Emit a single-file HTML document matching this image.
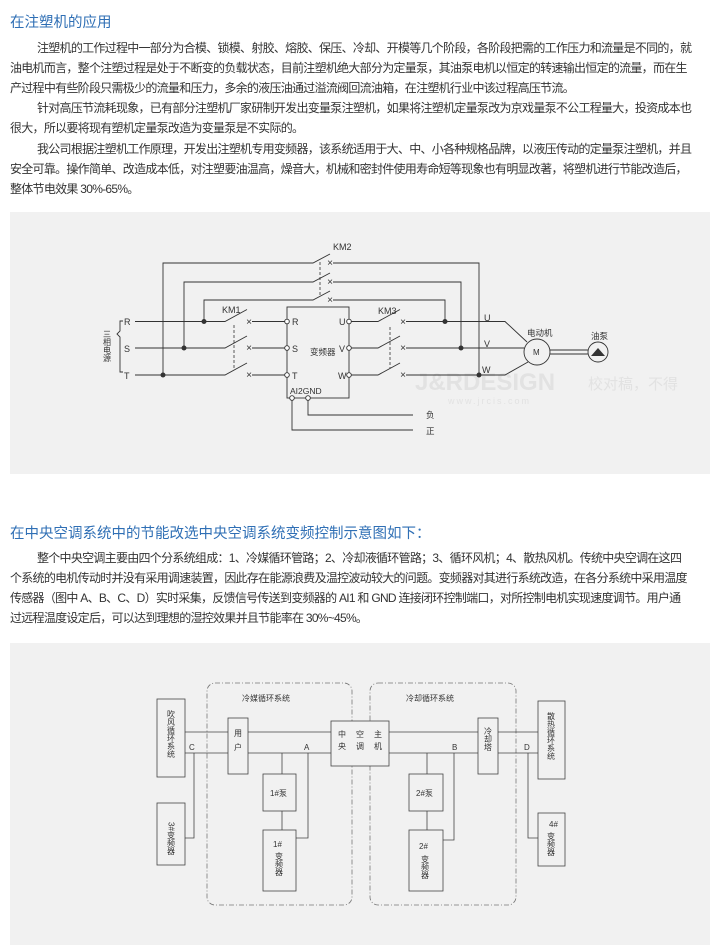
<!DOCTYPE html>
<html><head><meta charset="utf-8"><style>
html,body{margin:0;padding:0;background:#fff;width:720px;height:945px;overflow:hidden}
body{font-family:"Liberation Sans","Noto Sans CJK SC",sans-serif;color:#333;position:relative}
.t{position:absolute;left:10px;font-size:14.5px;color:#2f6fb5;white-space:nowrap}
.l{position:absolute;left:10px;font-size:12px;letter-spacing:-0.72px;white-space:nowrap;color:#333}
.i{left:37px}
svg{position:absolute;left:0;top:0}
</style></head><body>
<div class="t" style="top:11px">在注塑机的应用</div>
<div class="l i" style="top:39px">注塑机的工作过程中一部分为合模、锁模、射胶、熔胶、保压、冷却、开模等几个阶段，各阶段把需的工作压力和流量是不同的，就</div>
<div class="l" style="top:59px">油电机而言，整个注塑过程是处于不断变的负载状态，目前注塑机绝大部分为定量泵，其油泵电机以恒定的转速输出恒定的流量，而在生</div>
<div class="l" style="top:79px">产过程中有些阶段只需极少的流量和压力，多余的液压油通过溢流阀回流油箱，在注塑机行业中该过程高压节流。</div>
<div class="l i" style="top:99px">针对高压节流耗现象，已有部分注塑机厂家研制开发出变量泵注塑机，如果将注塑机定量泵改为京戏量泵不公工程量大，投资成本也</div>
<div class="l" style="top:119px">很大，所以要将现有塑机定量泵改造为变量泵是不实际的。</div>
<div class="l i" style="top:140px">我公司根据注塑机工作原理，开发出注塑机专用变频器，该系统适用于大、中、小各种规格品牌，以液压传动的定量泵注塑机，并且</div>
<div class="l" style="top:160px">安全可靠。操作简单、改造成本低，对注塑要油温高，燥音大，机械和密封件使用寿命短等现象也有明显改著，将塑机进行节能改造后，</div>
<div class="l" style="top:180px">整体节电效果 30%-65%。</div>

<div class="t" style="top:522px">在中央空调系统中的节能改选中央空调系统变频控制示意图如下：</div>
<div class="l i" style="top:549px">整个中央空调主要由四个分系统组成：1、冷媒循环管路；2、冷却液循环管路；3、循环风机；4、散热风机。传统中央空调在这四</div>
<div class="l" style="top:569px">个系统的电机传动时并没有采用调速装置，因此存在能源浪费及温控波动较大的问题。变频器对其进行系统改造，在各分系统中采用温度</div>
<div class="l" style="top:589px">传感器（图中 A、B、C、D）实时采集，反馈信号传送到变频器的 AI1 和 GND 连接闭环控制端口，对所控制电机实现速度调节。用户通</div>
<div class="l" style="top:609px">过远程温度设定后，可以达到理想的湿控效果并且节能率在 30%~45%。</div>

<svg width="720" height="945" viewBox="0 0 720 945" font-family="Liberation Sans, Noto Sans CJK SC, sans-serif">
<rect x="10" y="212" width="700" height="262" fill="#f1f1f1"/>
<rect x="10" y="643" width="700" height="302" fill="#f1f1f1"/>
<!-- watermark -->
<text x="415" y="390" font-size="24" font-weight="bold" fill="#e2e2e2">J&amp;RDESIGN</text>
<text x="588" y="389" font-size="15" fill="#e2e2e2">校对稿，不得</text>
<text x="448" y="404" font-size="9" fill="#e2e2e2" letter-spacing="2">www.jrcis.com</text>
<g stroke="#333" stroke-width="0.9" fill="none">
<path d="M123 321 h-3 v10 l-3 3 l3 3 v35 h3"/>
<path d="M135 321.5 H225 l22 -12"/><path d="M135 348 H225 l22 -12"/><path d="M135 375 H225 l22 -12"/>
<path d="M252 321.5 H287"/><path d="M252 348 H287"/><path d="M252 375 H287"/>
<path d="M163 375 V263 H313 l17 -9"/><path d="M184 348 V282 H313 l17 -9"/><path d="M204 321.5 V300 H313 l17 -9"/>
<path d="M333 263 H479 V375"/><path d="M333 282 H461 V348"/><path d="M333 300 H445 V321.5"/>
<rect x="287" y="307" width="62" height="91"/>
<path d="M349 321.5 H378 l22 -12"/><path d="M349 348 H378 l22 -12"/><path d="M349 375 H378 l22 -12"/>
<path d="M406 321.5 H505 L527 342"/><path d="M406 348 H524"/><path d="M406 375 H505 L528 362"/>
<path d="M308 398 V415 H413"/><path d="M292 398 V430 H413"/>
<circle cx="537" cy="352" r="13"/>
<path d="M550 350 H588 M550 354 H588"/>
<circle cx="598" cy="352" r="10"/>
</g>
<path d="M591 356 L598 348 L605 356 Z" fill="#333"/>
<g stroke="#333" stroke-width="0.8" stroke-dasharray="3,2">
<path d="M320 262 V297"/><path d="M234 325 V368"/><path d="M390 327 V368"/>
</g>
<g fill="#333"><circle cx="163" cy="375" r="2.5"/><circle cx="184" cy="348" r="2.5"/><circle cx="204" cy="321.5" r="2.5"/>
<circle cx="445" cy="321.5" r="2.5"/><circle cx="461" cy="348" r="2.5"/><circle cx="479" cy="375" r="2.5"/></g>
<g fill="#fff" stroke="#333" stroke-width="0.9"><circle cx="287" cy="321.5" r="2.3"/><circle cx="287" cy="348" r="2.3"/><circle cx="287" cy="375" r="2.3"/>
<circle cx="349" cy="321.5" r="2.3"/><circle cx="349" cy="348" r="2.3"/><circle cx="349" cy="375" r="2.3"/><circle cx="292" cy="398" r="2.3"/><circle cx="308" cy="398" r="2.3"/></g>
<g font-size="10" fill="#333" text-anchor="middle">
<text x="249" y="325">×</text><text x="249" y="351">×</text><text x="249" y="378">×</text>
<text x="330" y="266">×</text><text x="330" y="285">×</text><text x="330" y="303">×</text>
<text x="403" y="325">×</text><text x="403" y="351">×</text><text x="403" y="378">×</text>
</g>
<g font-size="9" fill="#333">
<text x="124" y="325">R</text><text x="124" y="352">S</text><text x="124" y="379">T</text>
<text x="292" y="325">R</text><text x="292" y="352">S</text><text x="292" y="379">T</text>
<text x="339" y="325">U</text><text x="339" y="352">V</text><text x="338" y="379">W</text>
<text x="310" y="355" font-size="8.5">变频器</text>
<text x="290" y="394" font-size="8.5">AI2GND</text>
<text x="222" y="313">KM1</text><text x="333" y="250">KM2</text><text x="378" y="314">KM3</text>
<text x="484" y="321">U</text><text x="484" y="347">V</text><text x="482" y="373">W</text>
<text x="527" y="336" font-size="8.5">电动机</text><text x="533" y="355" font-size="8">M</text>
<text x="591" y="339" font-size="8.5">油泵</text>
<text x="426" y="418" font-size="8.5">负</text><text x="426" y="434" font-size="8.5">正</text>
</g>
<text font-size="8" fill="#333" writing-mode="tb" x="107" y="330">三相电源</text>

<g stroke="#777" stroke-width="0.8" fill="none" stroke-dasharray="5,2,1,2">
<rect x="207" y="683" width="145" height="222" rx="8"/>
<rect x="370" y="683" width="146" height="222" rx="8"/>
</g>
<g stroke="#444" stroke-width="0.8" fill="none">
<path d="M185 732 H228 M248 732 H331 M389 732 H478 M498 732 H538"/>
<path d="M185 753 H228 M248 753 H331 M389 753 H478 M498 753 H538"/>
<path d="M194 753 V838 H185"/><path d="M308 753 V838 H296"/><path d="M282 753 V774 M282 811 V830"/>
<path d="M454 753 V840 H443"/><path d="M427 753 V774 M427 811 V830"/><path d="M528 753 V838 H538"/>
</g>
<g stroke="#444" stroke-width="0.8" fill="#f1f1f1">
<rect x="157" y="699" width="28" height="78"/><rect x="157" y="803" width="28" height="62"/>
<rect x="228" y="718" width="20" height="56"/><rect x="331" y="721" width="58" height="45"/>
<rect x="478" y="718" width="20" height="56"/><rect x="538" y="701" width="27" height="78"/>
<rect x="538" y="813" width="27" height="53"/>
<rect x="263" y="774" width="33" height="37"/><rect x="263" y="830" width="33" height="61"/>
<rect x="409" y="774" width="34" height="37"/><rect x="409" y="830" width="34" height="61"/>
</g>
<g font-size="8" fill="#333">
<text x="242" y="701">冷媒循环系统</text><text x="406" y="701">冷却循环系统</text>
<text x="189" y="750">C</text><text x="304" y="750">A</text><text x="452" y="750">B</text><text x="524" y="750">D</text>
<text x="270" y="796">1#泵</text><text x="416" y="796">2#泵</text>
<text x="273" y="847">1#</text><text x="419" y="849">2#</text>
<text x="549" y="827">4#</text>
</g>
<g font-size="8" fill="#333" writing-mode="tb">
<text x="171" y="710">吹风循环系统</text>
<text x="171" y="822">3#变频器</text>
<text x="238" y="729" letter-spacing="6">用户</text>
<text x="342" y="730" letter-spacing="4">中央</text><text x="360" y="730" letter-spacing="4">空调</text><text x="378" y="730" letter-spacing="4">主机</text>
<text x="488" y="727">冷却塔</text>
<text x="551" y="712">散热循环系统</text>
<text x="551" y="832">变频器</text>
<text x="279" y="852">变频器</text><text x="425" y="855">变频器</text>
</g>
</svg>
</body></html>
